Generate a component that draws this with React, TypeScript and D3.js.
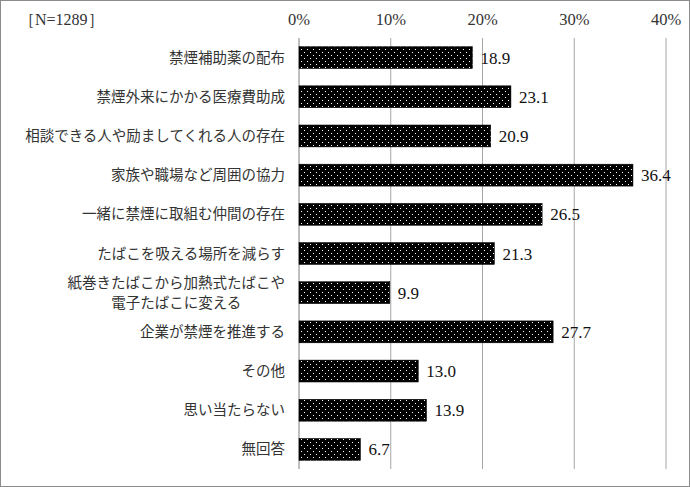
import React from "react";
import * as d3 from "d3";

const categories: string[][] = [
  ["禁煙補助薬の配布"],
  ["禁煙外来にかかる医療費助成"],
  ["相談できる人や励ましてくれる人の存在"],
  ["家族や職場など周囲の協力"],
  ["一緒に禁煙に取組む仲間の存在"],
  ["たばこを吸える場所を減らす"],
  ["紙巻きたばこから加熱式たばこや", "電子たばこに変える"],
  ["企業が禁煙を推進する"],
  ["その他"],
  ["思い当たらない"],
  ["無回答"],
];
const values: number[] = [18.9, 23.1, 20.9, 36.4, 26.5, 21.3, 9.9, 27.7, 13.0, 13.9, 6.7];
const ticks: number[] = [0, 10, 20, 30, 40];
const note = "［N=1289］";

const W = 690, H = 487;
const M = { left: 299, right: 666, top: 38, bottom: 469 };
const JP = "'Noto Sans CJK JP', sans-serif";
const SERIF = "'Liberation Serif', 'DejaVu Serif', serif";

export default function App() {
  const x = d3.scaleLinear().domain([0, 40]).range([M.left, M.right]);
  const y = d3.scaleBand<number>().domain(d3.range(categories.length)).range([M.top, M.bottom]).paddingInner(0.44).paddingOuter(0.22);
  const fs = 14.5;
  return (
    <svg width={W} height={H} style={{ position: "absolute", left: 0, top: 0 }}>
      <defs>
        <pattern id="dots" width="6" height="6" patternUnits="userSpaceOnUse">
          <rect width="6" height="6" fill="#000" />
          <rect x="1" y="1" width="1" height="1" fill="#fff" />
          <rect x="4" y="4" width="1" height="1" fill="#fff" />
        </pattern>
      </defs>
      <rect x={0.5} y={0.5} width={W - 1} height={H - 1} fill="#fff" stroke="#8c8c8c" />
      {ticks.map((t) => (
        <g key={t}>
          {t > 0 && <line x1={x(t)} x2={x(t)} y1={M.top} y2={M.bottom} stroke="#a6a6a6" strokeWidth={1} />}
          <text x={x(t)} y={25} textAnchor="middle" fontFamily={SERIF} fontSize={16.5} fill="#333">{t}%</text>
        </g>
      ))}
      <line x1={x(0)} x2={x(0)} y1={M.top} y2={M.bottom} stroke="#7f7f7f" />
      <text x={19} y={25} fontFamily={SERIF} fontSize={16} fill="#333">{note}</text>
      {values.map((v, i) => {
        const yc = (y(i) as number) + y.bandwidth() / 2;
        const lab = categories[i];
        return (
          <g key={i}>
            <rect x={x(0)} y={y(i)} width={x(v) - x(0)} height={y.bandwidth()} fill="url(#dots)" stroke="#000" strokeWidth={0.5} />
            <text x={x(v) + 8} y={yc + 6} fontFamily={SERIF} fontSize={17} fill="#111">{v.toFixed(1)}</text>
            {lab.length === 1 ? (
              <text x={285} y={yc + 5} textAnchor="end" fontFamily={JP} fontSize={fs} fill="#333">{lab[0]}</text>
            ) : (
              <g>
                <text x={285} y={yc - 5} textAnchor="end" fontFamily={JP} fontSize={fs} fill="#333">{lab[0]}</text>
                <text x={285 - (lab[0].length * fs) / 2} y={yc + 15} textAnchor="middle" fontFamily={JP} fontSize={fs} fill="#333">{lab[1]}</text>
              </g>
            )}
          </g>
        );
      })}
    </svg>
  );
}
